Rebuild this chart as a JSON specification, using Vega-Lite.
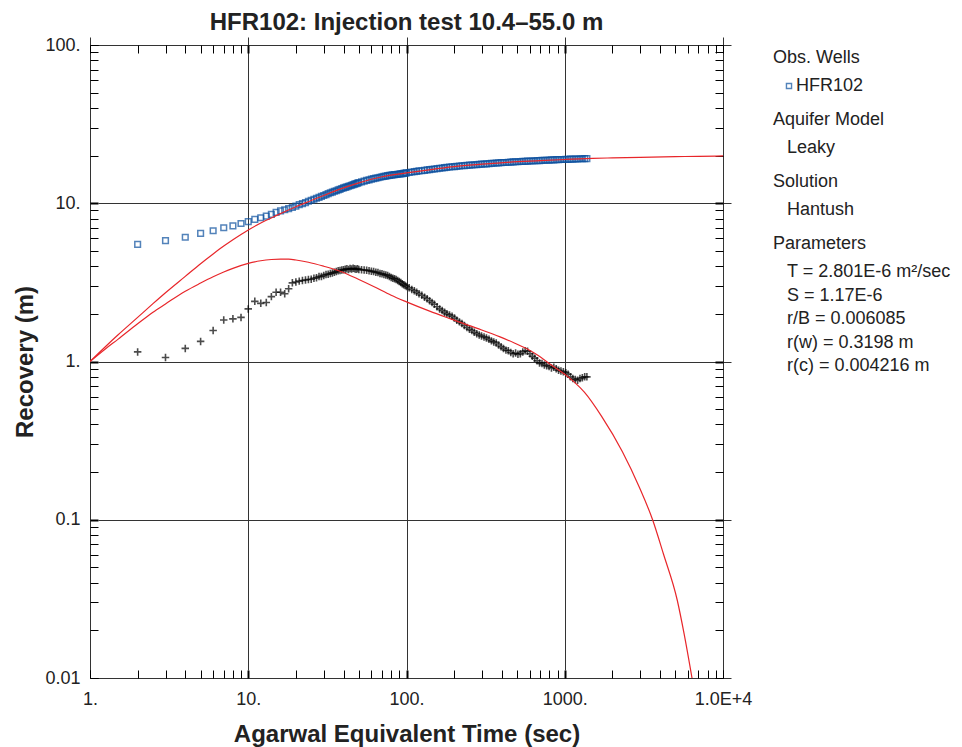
{
  "$schema": "https://vega.github.io/schema/vega-lite/v6.json",
  "width": 633,
  "height": 633,
  "autosize": "none",
  "padding": {"left": 90, "top": 45, "right": 239, "bottom": 69},
  "background": "white",
  "title": {"text": "HFR102: Injection test 10.4–55.0 m", "font": "Liberation Sans", "fontSize": 24, "fontWeight": "bold", "color": "#222222", "anchor": "middle", "offset": 1},
  "config": {
    "view": {"stroke": "#000000", "strokeWidth": 1},
    "font": "Liberation Sans",
    "axis": {
      "labelFont": "Liberation Sans", "labelFontSize": 18, "labelColor": "#222222",
      "titleFont": "Liberation Sans", "titleFontSize": 24, "titleFontWeight": "bold", "titleColor": "#222222",
      "domain": false, "tickColor": "#000000", "ticks": true, "tickSize": 8, "offset": -8,
      "gridColor": "#333333", "gridWidth": 1,
      "labelFlush": false, "labelOverlap": false
    },
    "legend": {
      "orient": "right", "offset": 45, "padding": 4,
      "titleFont": "Liberation Sans", "titleFontSize": 18, "titleFontWeight": "normal", "titleColor": "#222222",
      "labelFont": "Liberation Sans", "labelFontSize": 18, "labelColor": "#222222",
      "titlePadding": 10, "rowPadding": 5.5, "labelLimit": 300
    }
  },
  "datasets": {
    "obs": [
      {"t": 2, "rec": 5.5, "der": 1.15}, {"t": 3, "rec": 5.8, "der": 1.06}, {"t": 4, "rec": 6.1, "der": 1.21},
      {"t": 5, "rec": 6.45, "der": 1.34}, {"t": 6, "rec": 6.7, "der": 1.57}, {"t": 7, "rec": 7.0, "der": 1.83},
      {"t": 8, "rec": 7.2, "der": 1.86}, {"t": 9, "rec": 7.45, "der": 1.9}, {"t": 10, "rec": 7.65, "der": 2.15},
      {"t": 11, "rec": 7.9, "der": 2.4}, {"t": 12, "rec": 8.1, "der": 2.33}, {"t": 13, "rec": 8.3, "der": 2.36},
      {"t": 14, "rec": 8.5, "der": 2.57}, {"t": 15, "rec": 8.75, "der": 2.74}, {"t": 16, "rec": 8.95, "der": 2.74},
      {"t": 17, "rec": 9.1, "der": 2.68}, {"t": 18, "rec": 9.25, "der": 2.88}, {"t": 19, "rec": 9.4, "der": 3.14},
      {"t": 20, "rec": 9.6, "der": 3.18}, {"t": 21, "rec": 9.8, "der": 3.22}, {"t": 22, "rec": 9.95, "der": 3.25},
      {"t": 23, "rec": 10.1, "der": 3.27}, {"t": 24, "rec": 10.3, "der": 3.3}, {"t": 25, "rec": 10.45, "der": 3.31},
      {"t": 26, "rec": 10.6, "der": 3.36}, {"t": 27, "rec": 10.75, "der": 3.38}, {"t": 28, "rec": 10.9, "der": 3.44},
      {"t": 29, "rec": 11.05, "der": 3.45}, {"t": 30, "rec": 11.2, "der": 3.5}, {"t": 31, "rec": 11.35, "der": 3.55},
      {"t": 32, "rec": 11.5, "der": 3.56}, {"t": 33, "rec": 11.65, "der": 3.6}, {"t": 34, "rec": 11.75, "der": 3.63},
      {"t": 35, "rec": 11.9, "der": 3.66}, {"t": 36, "rec": 12.0, "der": 3.7}, {"t": 37, "rec": 12.15, "der": 3.74},
      {"t": 38, "rec": 12.25, "der": 3.76}, {"t": 39, "rec": 12.4, "der": 3.79}, {"t": 40, "rec": 12.5, "der": 3.8},
      {"t": 41, "rec": 12.6, "der": 3.83}, {"t": 42, "rec": 12.7, "der": 3.85}, {"t": 43, "rec": 12.8, "der": 3.82},
      {"t": 44, "rec": 12.9, "der": 3.87}, {"t": 45, "rec": 13.0, "der": 3.84}, {"t": 46, "rec": 13.1, "der": 3.88},
      {"t": 47, "rec": 13.2, "der": 3.85}, {"t": 48, "rec": 13.3, "der": 3.83}, {"t": 49, "rec": 13.4, "der": 3.86},
      {"t": 50, "rec": 13.5, "der": 3.82}, {"t": 52, "rec": 13.65, "der": 3.8}, {"t": 54, "rec": 13.8, "der": 3.79},
      {"t": 56, "rec": 13.95, "der": 3.77}, {"t": 58, "rec": 14.05, "der": 3.75}, {"t": 60, "rec": 14.2, "der": 3.72},
      {"t": 62, "rec": 14.3, "der": 3.7}, {"t": 64, "rec": 14.4, "der": 3.66}, {"t": 66, "rec": 14.5, "der": 3.65},
      {"t": 68, "rec": 14.6, "der": 3.6}, {"t": 70, "rec": 14.7, "der": 3.58}, {"t": 72, "rec": 14.8, "der": 3.55},
      {"t": 74, "rec": 14.85, "der": 3.52}, {"t": 76, "rec": 14.95, "der": 3.5}, {"t": 78, "rec": 15.0, "der": 3.45},
      {"t": 80, "rec": 15.05, "der": 3.4}, {"t": 82, "rec": 15.1, "der": 3.36}, {"t": 84, "rec": 15.15, "der": 3.33},
      {"t": 86, "rec": 15.2, "der": 3.3}, {"t": 88, "rec": 15.25, "der": 3.25}, {"t": 90, "rec": 15.3, "der": 3.2},
      {"t": 92, "rec": 15.35, "der": 3.16}, {"t": 94, "rec": 15.4, "der": 3.1}, {"t": 96, "rec": 15.45, "der": 3.06},
      {"t": 98, "rec": 15.5, "der": 3.02}, {"t": 100, "rec": 15.55, "der": 2.98}, {"t": 104, "rec": 15.65, "der": 2.92},
      {"t": 108, "rec": 15.75, "der": 2.85}, {"t": 112, "rec": 15.85, "der": 2.8}, {"t": 116, "rec": 15.9, "der": 2.74},
      {"t": 120, "rec": 16.0, "der": 2.68}, {"t": 125, "rec": 16.05, "der": 2.62}, {"t": 130, "rec": 16.15, "der": 2.55},
      {"t": 135, "rec": 16.25, "der": 2.49}, {"t": 140, "rec": 16.3, "der": 2.42}, {"t": 145, "rec": 16.4, "der": 2.36},
      {"t": 150, "rec": 16.45, "der": 2.3}, {"t": 156, "rec": 16.55, "der": 2.22}, {"t": 162, "rec": 16.65, "der": 2.15},
      {"t": 168, "rec": 16.7, "der": 2.1}, {"t": 174, "rec": 16.8, "der": 2.05}, {"t": 180, "rec": 16.85, "der": 2.0},
      {"t": 187, "rec": 16.95, "der": 1.97}, {"t": 194, "rec": 17.0, "der": 1.93}, {"t": 201, "rec": 17.05, "der": 1.88},
      {"t": 208, "rec": 17.1, "der": 1.82}, {"t": 216, "rec": 17.2, "der": 1.78}, {"t": 224, "rec": 17.25, "der": 1.74},
      {"t": 232, "rec": 17.3, "der": 1.69}, {"t": 241, "rec": 17.35, "der": 1.64}, {"t": 250, "rec": 17.4, "der": 1.6},
      {"t": 259, "rec": 17.45, "der": 1.57}, {"t": 268, "rec": 17.5, "der": 1.53}, {"t": 278, "rec": 17.55, "der": 1.5},
      {"t": 288, "rec": 17.6, "der": 1.47}, {"t": 298, "rec": 17.65, "der": 1.45}, {"t": 309, "rec": 17.7, "der": 1.43},
      {"t": 320, "rec": 17.75, "der": 1.41}, {"t": 332, "rec": 17.8, "der": 1.38}, {"t": 344, "rec": 17.85, "der": 1.35},
      {"t": 356, "rec": 17.9, "der": 1.33}, {"t": 369, "rec": 17.95, "der": 1.31}, {"t": 382, "rec": 18.0, "der": 1.27},
      {"t": 396, "rec": 18.05, "der": 1.24}, {"t": 410, "rec": 18.1, "der": 1.21}, {"t": 425, "rec": 18.1, "der": 1.18},
      {"t": 440, "rec": 18.15, "der": 1.17}, {"t": 456, "rec": 18.2, "der": 1.14}, {"t": 472, "rec": 18.25, "der": 1.12},
      {"t": 489, "rec": 18.3, "der": 1.13}, {"t": 506, "rec": 18.3, "der": 1.11}, {"t": 524, "rec": 18.35, "der": 1.12},
      {"t": 543, "rec": 18.4, "der": 1.15}, {"t": 562, "rec": 18.4, "der": 1.17}, {"t": 582, "rec": 18.45, "der": 1.16},
      {"t": 603, "rec": 18.5, "der": 1.12}, {"t": 624, "rec": 18.5, "der": 1.08}, {"t": 646, "rec": 18.55, "der": 1.05},
      {"t": 669, "rec": 18.6, "der": 1.01}, {"t": 693, "rec": 18.6, "der": 0.98}, {"t": 718, "rec": 18.65, "der": 0.97},
      {"t": 743, "rec": 18.7, "der": 0.95}, {"t": 769, "rec": 18.7, "der": 0.94}, {"t": 796, "rec": 18.75, "der": 0.93},
      {"t": 824, "rec": 18.8, "der": 0.91}, {"t": 853, "rec": 18.8, "der": 0.92}, {"t": 883, "rec": 18.85, "der": 0.9},
      {"t": 914, "rec": 18.85, "der": 0.88}, {"t": 946, "rec": 18.9, "der": 0.87}, {"t": 980, "rec": 18.9, "der": 0.86},
      {"t": 1015, "rec": 18.95, "der": 0.85}, {"t": 1050, "rec": 18.95, "der": 0.83}, {"t": 1087, "rec": 19.0, "der": 0.8},
      {"t": 1125, "rec": 19.0, "der": 0.78}, {"t": 1165, "rec": 19.05, "der": 0.77}, {"t": 1206, "rec": 19.05, "der": 0.76},
      {"t": 1248, "rec": 19.1, "der": 0.78}, {"t": 1292, "rec": 19.1, "der": 0.79}, {"t": 1337, "rec": 19.15, "der": 0.8},
      {"t": 1380, "rec": 19.15, "der": 0.8}
    ],
    "fit": [
      {"curve": "recovery", "t": 1, "v": 1.0}, {"curve": "recovery", "t": 1.25, "v": 1.24}, {"curve": "recovery", "t": 1.5, "v": 1.47},
      {"curve": "recovery", "t": 2, "v": 1.9}, {"curve": "recovery", "t": 2.5, "v": 2.32}, {"curve": "recovery", "t": 3, "v": 2.72},
      {"curve": "recovery", "t": 4, "v": 3.45}, {"curve": "recovery", "t": 5, "v": 4.15}, {"curve": "recovery", "t": 6, "v": 4.78},
      {"curve": "recovery", "t": 7, "v": 5.36}, {"curve": "recovery", "t": 8, "v": 5.88}, {"curve": "recovery", "t": 9, "v": 6.35},
      {"curve": "recovery", "t": 10, "v": 6.78}, {"curve": "recovery", "t": 12, "v": 7.5}, {"curve": "recovery", "t": 15, "v": 8.35},
      {"curve": "recovery", "t": 20, "v": 9.5}, {"curve": "recovery", "t": 25, "v": 10.4}, {"curve": "recovery", "t": 30, "v": 11.2},
      {"curve": "recovery", "t": 40, "v": 12.5}, {"curve": "recovery", "t": 50, "v": 13.45}, {"curve": "recovery", "t": 70, "v": 14.7},
      {"curve": "recovery", "t": 100, "v": 15.55}, {"curve": "recovery", "t": 150, "v": 16.45}, {"curve": "recovery", "t": 200, "v": 17.05},
      {"curve": "recovery", "t": 300, "v": 17.65}, {"curve": "recovery", "t": 500, "v": 18.3}, {"curve": "recovery", "t": 700, "v": 18.6},
      {"curve": "recovery", "t": 1000, "v": 18.9}, {"curve": "recovery", "t": 1500, "v": 19.2}, {"curve": "recovery", "t": 2000, "v": 19.35},
      {"curve": "recovery", "t": 3000, "v": 19.5}, {"curve": "recovery", "t": 5000, "v": 19.7}, {"curve": "recovery", "t": 7000, "v": 19.8},
      {"curve": "recovery", "t": 10000, "v": 19.9},
      {"curve": "derivative", "t": 1, "v": 1.0}, {"curve": "derivative", "t": 1.25, "v": 1.2}, {"curve": "derivative", "t": 1.5, "v": 1.38},
      {"curve": "derivative", "t": 2, "v": 1.73}, {"curve": "derivative", "t": 2.5, "v": 2.05}, {"curve": "derivative", "t": 3, "v": 2.31},
      {"curve": "derivative", "t": 4, "v": 2.78}, {"curve": "derivative", "t": 5, "v": 3.13}, {"curve": "derivative", "t": 6, "v": 3.43},
      {"curve": "derivative", "t": 7, "v": 3.68}, {"curve": "derivative", "t": 8, "v": 3.88}, {"curve": "derivative", "t": 10, "v": 4.17},
      {"curve": "derivative", "t": 12, "v": 4.33}, {"curve": "derivative", "t": 14, "v": 4.41}, {"curve": "derivative", "t": 16, "v": 4.44},
      {"curve": "derivative", "t": 18, "v": 4.43}, {"curve": "derivative", "t": 20, "v": 4.38}, {"curve": "derivative", "t": 24, "v": 4.24},
      {"curve": "derivative", "t": 30, "v": 4.0}, {"curve": "derivative", "t": 38, "v": 3.72}, {"curve": "derivative", "t": 50, "v": 3.3},
      {"curve": "derivative", "t": 62, "v": 2.98}, {"curve": "derivative", "t": 80, "v": 2.62}, {"curve": "derivative", "t": 100, "v": 2.38},
      {"curve": "derivative", "t": 140, "v": 2.08}, {"curve": "derivative", "t": 190, "v": 1.86}, {"curve": "derivative", "t": 280, "v": 1.62},
      {"curve": "derivative", "t": 390, "v": 1.43}, {"curve": "derivative", "t": 480, "v": 1.31}, {"curve": "derivative", "t": 580, "v": 1.2},
      {"curve": "derivative", "t": 680, "v": 1.09}, {"curve": "derivative", "t": 810, "v": 0.96}, {"curve": "derivative", "t": 1000, "v": 0.83},
      {"curve": "derivative", "t": 1145, "v": 0.743}, {"curve": "derivative", "t": 1330, "v": 0.64}, {"curve": "derivative", "t": 1710, "v": 0.45},
      {"curve": "derivative", "t": 2310, "v": 0.27}, {"curve": "derivative", "t": 2965, "v": 0.16}, {"curve": "derivative", "t": 3590, "v": 0.1},
      {"curve": "derivative", "t": 4210, "v": 0.0605}, {"curve": "derivative", "t": 5140, "v": 0.031}, {"curve": "derivative", "t": 5680, "v": 0.019},
      {"curve": "derivative", "t": 6370, "v": 0.01}
    ],
    "info": [
      {"aquifer": "Leaky", "solution": "Hantush", "param": "T = 2.801E-6 m²/sec"},
      {"aquifer": "Leaky", "solution": "Hantush", "param": "S = 1.17E-6"},
      {"aquifer": "Leaky", "solution": "Hantush", "param": "r/B = 0.006085"},
      {"aquifer": "Leaky", "solution": "Hantush", "param": "r(w) = 0.3198 m"},
      {"aquifer": "Leaky", "solution": "Hantush", "param": "r(c) = 0.004216 m"}
    ]
  },
  "resolve": {"axis": {"x": "independent", "y": "independent"}},
  "layer": [
    {
      "data": {"name": "obs"},
      "mark": {"type": "point", "shape": "square", "filled": false, "size": 32, "strokeWidth": 1.5, "clip": true},
      "encoding": {
        "x": {
          "field": "t", "type": "quantitative",
          "scale": {"type": "log", "domain": [1, 10000], "nice": false},
          "axis": {
            "orient": "bottom",
            "values": [1,2,3,4,5,6,7,8,9,10,20,30,40,50,60,70,80,90,100,200,300,400,500,600,700,800,900,1000,2000,3000,4000,5000,6000,7000,8000,9000,10000],
            "labelExpr": "datum.value == 1 ? '1.' : datum.value == 10 ? '10.' : datum.value == 100 ? '100.' : datum.value == 1000 ? '1000.' : datum.value == 10000 ? '1.0E+4' : ''",
            "grid": true,
            "gridOpacity": {"condition": {"test": "indexof([1,10,100,1000,10000], datum.value) >= 0", "value": 1}, "value": 0},
            "tickWidth": {"condition": {"test": "indexof([10,100,1000], datum.value) >= 0", "value": 2}, "value": 1},
            "labelPadding": 12,
            "title": "Agarwal Equivalent Time (sec)",
            "titlePadding": 14
          }
        },
        "y": {
          "field": "rec", "type": "quantitative",
          "scale": {"type": "log", "domain": [0.01, 100], "nice": false},
          "axis": {
            "orient": "left",
            "values": [0.01,0.02,0.03,0.04,0.05,0.06,0.07,0.08,0.09,0.1,0.2,0.3,0.4,0.5,0.6,0.7,0.8,0.9,1,2,3,4,5,6,7,8,9,10,20,30,40,50,60,70,80,90,100],
            "labelExpr": "datum.value == 100 ? '100.' : datum.value == 10 ? '10.' : datum.value == 1 ? '1.' : datum.value == 0.1 ? '0.1' : datum.value == 0.01 ? '0.01' : ''",
            "grid": true,
            "gridOpacity": {"condition": {"test": "indexof([0.01,0.1,1,10,100], datum.value) >= 0", "value": 1}, "value": 0},
            "tickWidth": {"condition": {"test": "indexof([0.1,1,10], datum.value) >= 0", "value": 2}, "value": 1},
            "labelPadding": 10,
            "title": "Recovery (m)",
            "titlePadding": 7
          }
        },
        "color": {
          "datum": "HFR102", "type": "nominal",
          "scale": {"domain": ["HFR102"], "range": ["#0b4f9e"]},
          "legend": {"title": "Obs. Wells", "symbolType": "square", "symbolSize": 26, "symbolStrokeWidth": 1.4, "symbolOffset": 7, "labelOffset": -2}
        }
      }
    },
    {
      "data": {"name": "obs"},
      "mark": {"type": "point", "shape": "M-1,0L1,0M0,-1L0,1", "filled": false, "size": 56, "strokeWidth": 1.6, "color": "#000000", "clip": true},
      "encoding": {
        "x": {
          "field": "t", "type": "quantitative",
          "axis": {
            "orient": "top",
            "values": [1,2,3,4,5,6,7,8,9,10,20,30,40,50,60,70,80,90,100,200,300,400,500,600,700,800,900,1000,2000,3000,4000,5000,6000,7000,8000,9000,10000],
            "labels": false, "grid": false, "title": null,
            "tickWidth": {"condition": {"test": "indexof([10,100,1000], datum.value) >= 0", "value": 2}, "value": 1}
          }
        },
        "y": {
          "field": "der", "type": "quantitative",
          "axis": {
            "orient": "right",
            "values": [0.01,0.02,0.03,0.04,0.05,0.06,0.07,0.08,0.09,0.1,0.2,0.3,0.4,0.5,0.6,0.7,0.8,0.9,1,2,3,4,5,6,7,8,9,10,20,30,40,50,60,70,80,90,100],
            "labels": false, "grid": false, "title": null,
            "tickWidth": {"condition": {"test": "indexof([0.1,1,10], datum.value) >= 0", "value": 2}, "value": 1}
          }
        }
      }
    },
    {
      "data": {"name": "fit"},
      "mark": {"type": "line", "color": "#e8262a", "strokeWidth": 1.2, "interpolate": "monotone", "clip": true},
      "encoding": {
        "x": {"field": "t", "type": "quantitative", "axis": null},
        "y": {"field": "v", "type": "quantitative", "axis": null},
        "detail": {"field": "curve", "type": "nominal"}
      }
    },
    {
      "data": {"name": "info"},
      "mark": {"type": "point", "filled": false, "fillOpacity": 0, "strokeOpacity": 0},
      "encoding": {
        "shape": {
          "field": "aquifer", "type": "nominal",
          "scale": {"domain": ["Leaky"]},
          "legend": {"title": "Aquifer Model", "symbolSize": 0, "symbolStrokeWidth": 0, "symbolOpacity": 0, "labelOffset": -4}
        },
        "strokeDash": {
          "field": "solution", "type": "nominal",
          "scale": {"domain": ["Hantush"]},
          "legend": {"title": "Solution", "symbolSize": 0, "symbolStrokeWidth": 0, "symbolOpacity": 0, "labelOffset": -4}
        },
        "opacity": {
          "field": "param", "type": "nominal",
          "scale": {"domain": ["T = 2.801E-6 m²/sec", "S = 1.17E-6", "r/B = 0.006085", "r(w) = 0.3198 m", "r(c) = 0.004216 m"], "range": [1, 1, 1, 1, 1]},
          "legend": {"title": "Parameters", "symbolSize": 0, "symbolStrokeWidth": 0, "symbolOpacity": 0, "labelOffset": -4}
        }
      }
    }
  ]
}
